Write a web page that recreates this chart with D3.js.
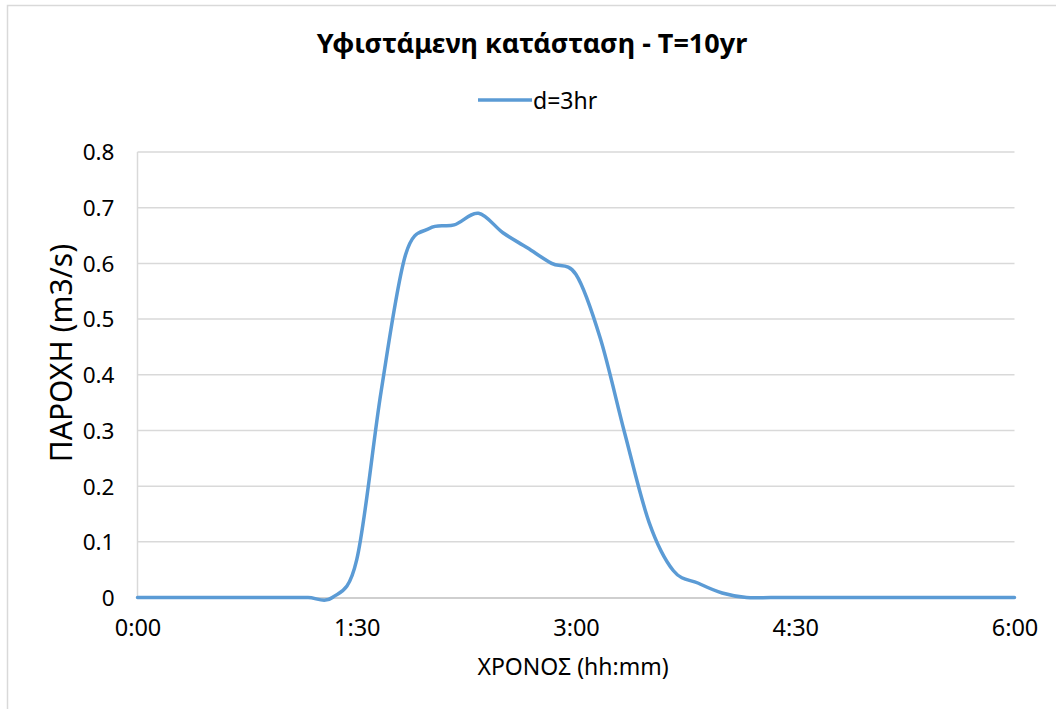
<!DOCTYPE html>
<html>
<head>
<meta charset="utf-8">
<script src="https://cdn.jsdelivr.net/npm/d3@7"></script>
<style>
  body { margin: 0; background: #fff; }
  svg text { font-family: "Noto Sans", "DejaVu Sans", sans-serif; fill: #000; }
</style>
</head>
<body>
<svg id="chart" width="1056" height="709"></svg>
<script>
// time in minutes from 0:00, flow in m3/s
const times = [0, 10, 20, 30, 40, 50, 60, 70, 80, 90, 100, 110, 120, 130, 140, 150, 160, 170, 180,
  190, 200, 210, 220, 230, 240, 250, 260, 270, 280, 290, 300, 310, 320, 330, 340, 350, 360];
const flows = [0, 0, 0, 0, 0, 0, 0, 0, 0, 0.068, 0.37, 0.615, 0.663, 0.669, 0.69, 0.655, 0.628, 0.60, 0.58,
  0.465, 0.295, 0.135, 0.048, 0.026, 0.008, 0, 0, 0, 0, 0, 0, 0, 0, 0, 0, 0, 0];
const xTicks = [0, 90, 180, 270, 360];
const xTickLabels = ["0:00", "1:30", "3:00", "4:30", "6:00"];
const yTicks = [0, 0.1, 0.2, 0.3, 0.4, 0.5, 0.6, 0.7, 0.8];
const seriesName = "d=3hr";
const title = "Υφιστάμενη κατάσταση - T=10yr";
const xTitle = "ΧΡΟΝΟΣ (hh:mm)";
const yTitle = "ΠΑΡΟΧΗ (m3/s)";

const svg = d3.select("#chart");
const plot = { left: 137.5, right: 1014.5, top: 152, bottom: 597.5 };

// outer chart frame (cut off on right / bottom)
svg.append("rect")
  .attr("x", 7.5).attr("y", 5.5)
  .attr("width", 1100).attr("height", 800)
  .attr("fill", "#fff")
  .attr("stroke", "#d9d9d9").attr("stroke-width", 1.5);

const x = d3.scaleLinear().domain([0, 360]).range([plot.left, plot.right]);
const y = d3.scaleLinear().domain([0, 0.8]).range([plot.bottom, plot.top]);

// gridlines
svg.append("g")
  .selectAll("line")
  .data(yTicks.filter(d => d > 0))
  .enter().append("line")
    .attr("x1", plot.left).attr("x2", plot.right)
    .attr("y1", d => y(d)).attr("y2", d => y(d))
    .attr("stroke", "#d9d9d9").attr("stroke-width", 1.5);

// left axis line
svg.append("line")
  .attr("x1", plot.left).attr("x2", plot.left)
  .attr("y1", plot.top).attr("y2", plot.bottom)
  .attr("stroke", "#d9d9d9").attr("stroke-width", 1.5);

// y axis
const yAxis = svg.append("g")
  .attr("transform", `translate(${plot.left},0)`)
  .call(d3.axisLeft(y).tickValues(yTicks).tickSize(0).tickPadding(23)
    .tickFormat(d => d === 0 ? "0" : d3.format(".1f")(d)));
yAxis.select(".domain").remove();
yAxis.selectAll("text").attr("font-size", 22.5).attr("dy", "0.35em");

// x axis
const xAxis = svg.append("g")
  .attr("transform", `translate(0,${plot.bottom})`)
  .call(d3.axisBottom(x).tickValues(xTicks).tickSize(0).tickPadding(22)
    .tickFormat((d, i) => xTickLabels[i]));
xAxis.select(".domain")
  .attr("stroke", "#bfbfbf").attr("stroke-width", 1.5);
xAxis.selectAll("text").attr("font-size", 23.5).attr("dy", "0.71em");

// flow line
const line = d3.line()
  .x((d, i) => x(times[i]))
  .y(d => y(d))
  .curve(d3.curveCardinal.tension(0));

svg.append("path")
  .datum(flows)
  .attr("d", line)
  .attr("fill", "none")
  .attr("stroke", "#5b9bd5")
  .attr("stroke-width", 3.5)
  .attr("stroke-linejoin", "round")
  .attr("stroke-linecap", "round");

// title
svg.append("text")
  .attr("x", 532).attr("y", 53)
  .attr("text-anchor", "middle")
  .attr("font-size", 27).attr("font-weight", "bold")
  .text(title);

// legend
svg.append("line")
  .attr("x1", 478).attr("x2", 532)
  .attr("y1", 100).attr("y2", 100)
  .attr("stroke", "#5b9bd5").attr("stroke-width", 3.5);
svg.append("text")
  .attr("x", 533).attr("y", 109)
  .attr("font-size", 23)
  .text(seriesName);

// axis titles
svg.append("text")
  .attr("x", 573).attr("y", 675)
  .attr("text-anchor", "middle")
  .attr("font-size", 23)
  .text(xTitle);

svg.append("text")
  .attr("transform", "translate(72,353) rotate(-90)")
  .attr("text-anchor", "middle")
  .attr("font-size", 30)
  .text(yTitle);
</script>
</body>
</html>
